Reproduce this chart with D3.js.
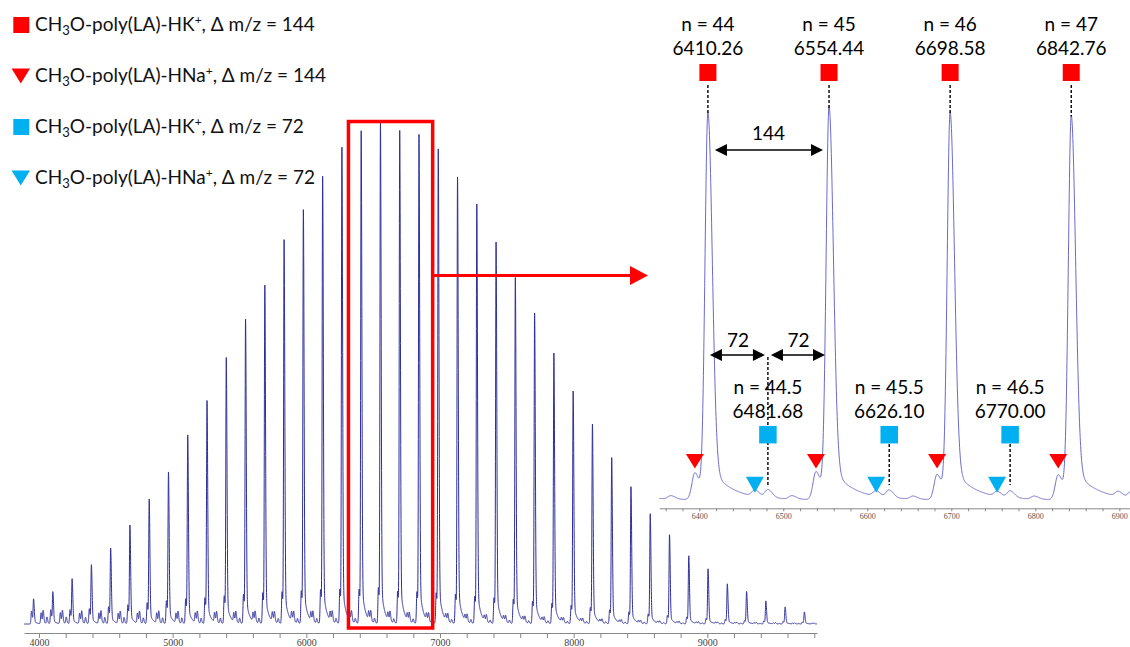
<!DOCTYPE html>
<html>
<head>
<meta charset="utf-8">
<script src="https://cdn.jsdelivr.net/npm/d3@7"></script>
<style>
  body { margin: 0; background: #fff; }
  svg text { font-family: Lato, "Open Sans", sans-serif; }
</style>
</head>
<body>
<svg id="chart" width="1130" height="647"></svg>
<script>
// ---- data (intensity in % of the n = 45 peak)
const chainN = [27, 28, 29, 30, 31, 32, 33, 34, 35, 36, 37, 38, 39, 40, 41, 42, 43, 44, 45, 46, 47,
  48, 49, 50, 51, 52, 53, 54, 55, 56, 57, 58, 59, 60, 61, 62, 63, 64, 65, 66, 67];
const hkMz = [3959.43, 4103.59, 4247.76, 4391.93, 4536.09, 4680.26, 4824.43, 4968.59, 5112.76,
  5256.93, 5401.09, 5545.26, 5689.43, 5833.59, 5977.76, 6121.93, 6266.09, 6410.26, 6554.44,
  6698.58, 6842.76, 6986.93, 7131.09, 7275.26, 7419.43, 7563.59, 7707.76, 7851.93, 7996.09,
  8140.26, 8284.43, 8428.59, 8572.76, 8716.93, 8861.09, 9005.26, 9149.43, 9293.59, 9437.76,
  9581.93, 9726.09];
const hkInt = [4.9, 6.3, 8.9, 11.7, 15.0, 19.6, 24.8, 30.2, 37.6, 44.5, 53.1, 60.8, 67.6, 76.7,
  82.7, 89.4, 95.2, 98.5, 100, 98.6, 97.8, 94.9, 89.3, 83.9, 76.3, 69.2, 62.1, 54.1, 46.5, 39.9,
  33.2, 27.4, 22.0, 17.8, 13.6, 11.0, 8.0, 6.5, 4.6, 3.4, 2.4];
const hnaInt = [2.6, 2.8, 2.8, 3.0, 3.4, 3.8, 4.2, 4.6, 5.0, 5.2, 5.6, 5.9, 6.2, 6.4, 6.6, 6.8,
  6.9, 6.9, 7.2, 6.5, 6.4, 6.2, 5.9, 5.5, 5.2, 4.9, 4.5, 4.1, 3.7, 3.3, 2.8, 2.4, 2.0, 1.7, 1.4,
  1.1, 0.9, 0.7, 0.6, 0.5, 0.4];
const halfHkInt = [2.6, 2.6, 2.5, 2.5, 2.4, 2.4, 2.4, 2.3, 2.3, 2.2, 2.2, 2.2, 2.1, 2.1, 2.1, 2.1,
  2.1, 2.1, 2.0, 1.8, 1.7, 1.6, 1.5, 1.4, 1.3, 1.2, 1.1, 1.0, 0.9, 0.8, 0.7, 0.6, 0.5, 0.45, 0.4,
  0.35, 0.3, 0.3, 0.25, 0.2, 0.2];
const halfHnaInt = [2.2, 2.2, 2.1, 2.1, 2.0, 2.0, 2.0, 1.9, 1.9, 1.9, 1.8, 1.8, 1.8, 1.8, 1.7, 1.7,
  1.7, 1.7, 1.45, 1.3, 1.3, 1.2, 1.1, 1.0, 1.0, 0.9, 0.8, 0.8, 0.7, 0.6, 0.5, 0.5, 0.4, 0.35, 0.3,
  0.3, 0.25, 0.2, 0.2, 0.15, 0.15];
// small unassigned peak ~100 above each HK+ peak
const otherInt = [1.3, 1.3, 1.2, 1.2, 1.2, 1.1, 1.1, 1.1, 1.0, 1.0, 1.0, 1.0, 0.9, 0.9, 0.9, 0.9,
  0.9, 0.9, 0.8, 0.8, 0.8, 0.7, 0.7, 0.6, 0.6, 0.5, 0.5, 0.4, 0.4, 0.35, 0.3, 0.3, 0.25, 0.2, 0.2,
  0.15, 0.15, 0.1, 0.1, 0.1, 0.1];

const NA_SHIFT = -15.5;   // K+ -> Na+ adduct
const HALF_SHIFT = 71.45; // half repeat unit
const OTHER_SHIFT = 100;
const BASELINE = 0.4;

// annotated peaks
const labelN = [44, 45, 46, 47];
const labelMz = [6410.26, 6554.44, 6698.58, 6842.76];
const halfN = [44.5, 45.5, 46.5];
const halfMz = [6481.68, 6626.10, 6770.00];

const legendAdduct = ['HK', 'HNa', 'HK', 'HNa'];
const legendDelta = [144, 144, 72, 72];

const mainTicks = d3.range(4000, 9801, 200);
const insetTicks = d3.range(6360, 6911, 20);

// ---- peak shape (steeper on the low-mass side, tailing on the high-mass side)
const SIGMA_L = 3.5;
const SIGMA_R = 5;
const TAIL_AMP = 0.09;
const TAIL_LEN = 25;

const peaks = [];
chainN.forEach((n, i) => {
  peaks.push({ mz: hkMz[i], h: hkInt[i] });
  peaks.push({ mz: hkMz[i] + NA_SHIFT, h: hnaInt[i] });
  peaks.push({ mz: hkMz[i] + HALF_SHIFT, h: halfHkInt[i] });
  peaks.push({ mz: hkMz[i] + HALF_SHIFT + NA_SHIFT, h: halfHnaInt[i] });
  peaks.push({ mz: hkMz[i] + OTHER_SHIFT, h: otherInt[i] });
});

function intensity(m) {
  let v = BASELINE;
  for (const p of peaks) {
    const d = m - p.mz;
    if (d < -40 || d > 250) continue;
    const s = d < 0 ? SIGMA_L : SIGMA_R;
    v += p.h * Math.exp(-d * d / (2 * s * s));
    if (d > 0) v += p.h * TAIL_AMP * Math.exp(-d / TAIL_LEN) * (1 - Math.exp(-d * d / 30));
  }
  return v;
}

function sample(lo, hi, step) {
  const ms = d3.range(lo, hi, step).concat(peaks.map(p => p.mz).filter(m => m > lo && m < hi));
  ms.push(hi);
  ms.sort((a, b) => a - b);
  return ms.map(m => [m, intensity(m)]);
}

const RED = '#ff0000';
const CYAN = '#00b0f0';
const svg = d3.select('#chart');

function square(g, cx, cy, s, color) {
  g.append('rect').attr('x', cx - s / 2).attr('y', cy - s / 2)
    .attr('width', s).attr('height', s).attr('fill', color);
}
function triangle(g, cx, top, w, h, color) {
  g.append('path')
    .attr('d', `M${cx - w / 2},${top}L${cx + w / 2},${top}L${cx},${top + h}Z`)
    .attr('fill', color);
}
function dblArrow(g, x1, x2, yy) {
  const L = 12, H = 6;
  g.append('line').attr('x1', x1 + L - 1).attr('x2', x2 - L + 1).attr('y1', yy).attr('y2', yy)
    .attr('stroke', '#000').attr('stroke-width', 1.6);
  g.append('path').attr('d', `M${x1},${yy}L${x1 + L},${yy - H}L${x1 + L},${yy + H}Z`).attr('fill', '#000');
  g.append('path').attr('d', `M${x2},${yy}L${x2 - L},${yy - H}L${x2 - L},${yy + H}Z`).attr('fill', '#000');
}

// ---- main spectrum
const x = d3.scaleLinear().domain([3887.8, 9820.4]).range([24, 817]);
const y = d3.scaleLinear().domain([0, 100]).range([626, 127.5]);

const mainAxis = svg.append('g').attr('transform', 'translate(0,633)')
  .call(d3.axisBottom(x).tickValues(mainTicks).tickSize(5).tickSizeOuter(0).tickPadding(1)
    .tickFormat(d => d % 1000 === 0 ? d : ''));
mainAxis.select('.domain').attr('stroke', '#888');
mainAxis.selectAll('.tick line').attr('stroke', '#888');
mainAxis.selectAll('.tick text').attr('fill', '#444')
  .style('font-family', '"Liberation Serif", serif').style('font-size', '10px');

svg.append('path')
  .datum(sample(3887.8, 9820.4, 0.5))
  .attr('d', d3.line().x(d => x(d[0])).y(d => y(d[1])))
  .attr('fill', 'none').attr('stroke', '#2f2f9c').attr('stroke-width', 1);

// zoom box and arrow
const zoomMz = [6315, 6945];
const zoomInt = [-0.4, 101.2];
svg.append('rect')
  .attr('x', x(zoomMz[0])).attr('y', y(zoomInt[1]))
  .attr('width', x(zoomMz[1]) - x(zoomMz[0])).attr('height', y(zoomInt[0]) - y(zoomInt[1]))
  .attr('fill', 'none').attr('stroke', RED).attr('stroke-width', 3.5);
svg.append('line').attr('x1', x(zoomMz[1])).attr('x2', 632).attr('y1', 275.5).attr('y2', 275.5)
  .attr('stroke', RED).attr('stroke-width', 3);
svg.append('path').attr('d', 'M630,266L648,275.5L630,285Z').attr('fill', RED);

// ---- inset
const xi = d3.scaleLinear().domain([6352.4, 6912.7]).range([659.3, 1130]);
const yi = d3.scaleLinear().domain([0, 100]).range([501.7, 110]);

const insetAxis = svg.append('g').attr('transform', 'translate(0,508.3)')
  .call(d3.axisBottom(xi).tickValues(insetTicks).tickSize(3).tickSizeOuter(0).tickPadding(2)
    .tickFormat(d => d % 100 === 0 ? d : ''));
insetAxis.select('.domain').attr('stroke', '#888');
insetAxis.selectAll('.tick line').attr('stroke', '#888');
insetAxis.selectAll('.tick text').attr('fill', '#555')
  .style('font-family', '"Liberation Serif", serif').style('font-size', '8px');

svg.append('path')
  .datum(sample(6352.4, 6912.7, 0.25))
  .attr('d', d3.line().x(d => xi(d[0])).y(d => yi(d[1])))
  .attr('fill', 'none').attr('stroke', '#6a6acb').attr('stroke-width', 1);

const ann = svg.append('g');
const dash = (x0, y1, y2) => ann.append('line').attr('x1', x0).attr('x2', x0).attr('y1', y1).attr('y2', y2)
  .attr('stroke', '#000').attr('stroke-width', 1.4).attr('stroke-dasharray', '3,2');

// integer-n peaks
labelN.forEach((n, i) => {
  const px = xi(labelMz[i]);
  const top = yi(hkInt[chainN.indexOf(n)]);
  dash(px, 85, top - 2);
  square(ann, px, 72.5, 17, RED);
  ann.append('text').attr('x', px).attr('y', 31).attr('text-anchor', 'middle')
    .style('font-size', '19px').text('n = ' + n);
  ann.append('text').attr('x', px).attr('y', 55).attr('text-anchor', 'middle')
    .style('font-size', '19px').text(labelMz[i].toFixed(2));
  triangle(ann, xi(labelMz[i] + NA_SHIFT), 454, 18, 14.5, RED);
});

// half-n peaks
halfN.forEach((n, i) => {
  const px = xi(halfMz[i]);
  dash(px, i === 0 ? 357 : 444, 485);
  ann.append('text').attr('x', px).attr('y', 394).attr('text-anchor', 'middle')
    .style('font-size', '19px').text('n = ' + n);
  ann.append('text').attr('x', px).attr('y', 418).attr('text-anchor', 'middle')
    .style('font-size', '19px').text(halfMz[i].toFixed(2));
  square(ann, px, 434.7, 17.5, CYAN);
  triangle(ann, xi(halfMz[i] + NA_SHIFT), 476.7, 18, 16, CYAN);
});

// spacing arrows
dblArrow(ann, xi(labelMz[0]) + 7, xi(labelMz[1]) - 6, 150);
ann.append('text').attr('x', (xi(labelMz[0]) + xi(labelMz[1])) / 2).attr('y', 140)
  .attr('text-anchor', 'middle').style('font-size', '19px').text('144');
dblArrow(ann, xi(labelMz[0]) + 2, xi(halfMz[0]) - 3, 355);
dblArrow(ann, xi(halfMz[0]) + 3, xi(labelMz[1]) - 4, 355);
ann.append('text').attr('x', (xi(labelMz[0]) + xi(halfMz[0])) / 2).attr('y', 346.5)
  .attr('text-anchor', 'middle').style('font-size', '19px').text('72');
ann.append('text').attr('x', (xi(halfMz[0]) + xi(labelMz[1])) / 2).attr('y', 346.5)
  .attr('text-anchor', 'middle').style('font-size', '19px').text('72');

// ---- legend
const legend = svg.append('g');
legendAdduct.forEach((a, i) => {
  const cy = 25 + i * 51;
  const color = legendDelta[i] === 144 ? RED : CYAN;
  if (a === 'HK') square(legend, 21.3, cy, 16, color);
  else triangle(legend, 20.8, cy - 7.5, 18.5, 15, color);
  const t = legend.append('text').attr('x', 35).attr('y', cy + 6).style('font-size', '19px').attr('fill', '#111');
  t.append('tspan').text('CH');
  t.append('tspan').attr('dy', 4).style('font-size', '13px').text('3');
  t.append('tspan').attr('dy', -4).text('O-poly(LA)-' + a);
  t.append('tspan').attr('dy', -7).style('font-size', '12px').text('+');
  t.append('tspan').attr('dy', 7).text(', \u0394 m/z = ' + legendDelta[i]);
});
</script>
</body>
</html>
